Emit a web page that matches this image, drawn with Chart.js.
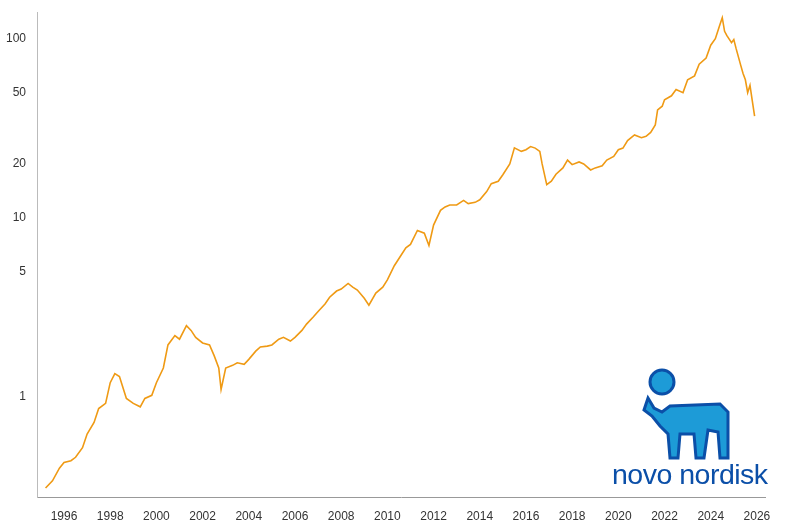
<!DOCTYPE html>
<html><head><meta charset="utf-8">
<script src="https://cdn.jsdelivr.net/npm/chart.js@4"></script>
<style>body{margin:0;background:#fff}#w{position:relative;width:800px;height:520px}
#logo{position:absolute;left:612px;top:458px;font-family:"Liberation Sans",Arial,sans-serif;font-size:28.5px;color:#0b4fa8;letter-spacing:-0.5px}
svg{position:absolute;left:640px;top:368px}</style>
</head><body><div id="w"><canvas id="c" width="800" height="520"></canvas>
<svg width="100" height="95" viewBox="0 0 100 95">
<circle cx="22" cy="14" r="12" fill="#1d9bd7" stroke="#0b4fa8" stroke-width="3"/>
<path d="M8 30 L14 40 L22 44 L30 38 L80 36 L88 44 L88 90 L80 90 L78 64 L68 62 L64 90 L56 90 L54 66 L40 66 L38 90 L30 90 L28 66 L20 58 L12 48 L4 42 Z" fill="#1d9bd7" stroke="#0b4fa8" stroke-width="3"/>
</svg>
<div id="logo">novo nordisk</div></div>
<script>
const years=[1995.2,1995.5,1995.8,1996.0,1996.3,1996.5,1996.8,1997.0,1997.3,1997.5,1997.8,1998.0,1998.2,1998.4,1998.7,1999.0,1999.3,1999.5,1999.8,2000.0,2000.3,2000.5,2000.8,2001.0,2001.3,2001.5,2001.7,2002.0,2002.3,2002.5,2002.7,2002.8,2003.0,2003.3,2003.5,2003.8,2004.0,2004.3,2004.5,2004.8,2005.0,2005.3,2005.5,2005.8,2006.0,2006.3,2006.5,2006.8,2007.0,2007.3,2007.5,2007.8,2008.0,2008.3,2008.5,2008.7,2009.0,2009.2,2009.5,2009.8,2010.0,2010.3,2010.6,2010.8,2011.0,2011.3,2011.6,2011.8,2012.0,2012.3,2012.5,2012.7,2013.0,2013.3,2013.5,2013.8,2014.0,2014.3,2014.5,2014.8,2015.0,2015.3,2015.5,2015.8,2016.0,2016.2,2016.4,2016.6,2016.7,2016.9,2017.1,2017.3,2017.6,2017.8,2018.0,2018.3,2018.5,2018.8,2019.0,2019.3,2019.5,2019.8,2020.0,2020.2,2020.4,2020.7,2021.0,2021.2,2021.4,2021.6,2021.7,2021.9,2022.0,2022.3,2022.5,2022.8,2023.0,2023.3,2023.5,2023.8,2024.0,2024.2,2024.4,2024.5,2024.6,2024.7,2024.9,2025.0,2025.1,2025.3,2025.4,2025.5,2025.6,2025.7,2025.8,2025.9];
const prices=[0.31,0.34,0.40,0.43,0.44,0.46,0.52,0.62,0.72,0.86,0.92,1.20,1.35,1.30,0.98,0.92,0.88,0.98,1.02,1.20,1.45,1.95,2.20,2.10,2.50,2.35,2.15,2.00,1.95,1.70,1.45,1.10,1.45,1.50,1.55,1.52,1.62,1.80,1.90,1.92,1.95,2.10,2.15,2.05,2.15,2.35,2.55,2.80,3.00,3.30,3.60,3.90,4.00,4.30,4.10,3.95,3.55,3.25,3.80,4.10,4.50,5.40,6.20,6.80,7.10,8.50,8.20,7.00,9.10,11.0,11.5,11.8,11.8,12.5,12.0,12.2,12.6,14.0,15.5,16.0,17.4,20.0,24.6,23.5,24.0,25.0,24.5,23.5,20.0,15.3,16.0,17.5,19.0,21.0,19.8,20.5,20.0,18.5,19.0,19.5,21.0,22.0,24.0,24.5,27.0,29.0,28.0,28.5,30.0,33.0,40.0,42.0,45.6,48.0,52.0,50.0,59.0,62.0,72.0,78.0,92.0,100.0,120.0,131.0,110.0,104.0,95.0,99.0,88.0,71.0,64.0,59.0,50.0,55.0,45.0,37.0];
const yTicks=[1,5,10,20,50,100];
const xTicks=[1996,1998,2000,2002,2004,2006,2008,2010,2012,2014,2016,2018,2020,2022,2024,2026];
new Chart(document.getElementById('c'),{type:'line',
data:{datasets:[{data:years.map((x,i)=>({x,y:prices[i]})),borderColor:'#ef9a14',borderWidth:1.6,pointRadius:0,tension:0}]},
options:{responsive:false,animation:false,layout:{padding:{top:12,right:35,left:0,bottom:0}},
plugins:{legend:{display:false},tooltip:{enabled:false}},
scales:{
x:{type:'linear',min:1994.83,max:2026.35,grid:{display:false},border:{color:'#999'},
 afterBuildTicks:a=>{a.ticks=xTicks.map(v=>({value:v}))},afterFit:a=>{a.height=23},
 ticks:{color:'#333',font:{size:12,family:'Liberation Sans'},maxRotation:0,autoSkip:false,padding:4,callback:v=>String(v)}},
y:{type:'logarithmic',min:0.276,max:141,grid:{display:false},border:{color:'#bbb'},
 afterBuildTicks:a=>{a.ticks=yTicks.map(v=>({value:v}))},afterFit:a=>{a.width=37},
 ticks:{color:'#333',font:{size:12,family:'Liberation Sans'},autoSkip:false,callback:v=>String(v)}}}}});
</script></body></html>
